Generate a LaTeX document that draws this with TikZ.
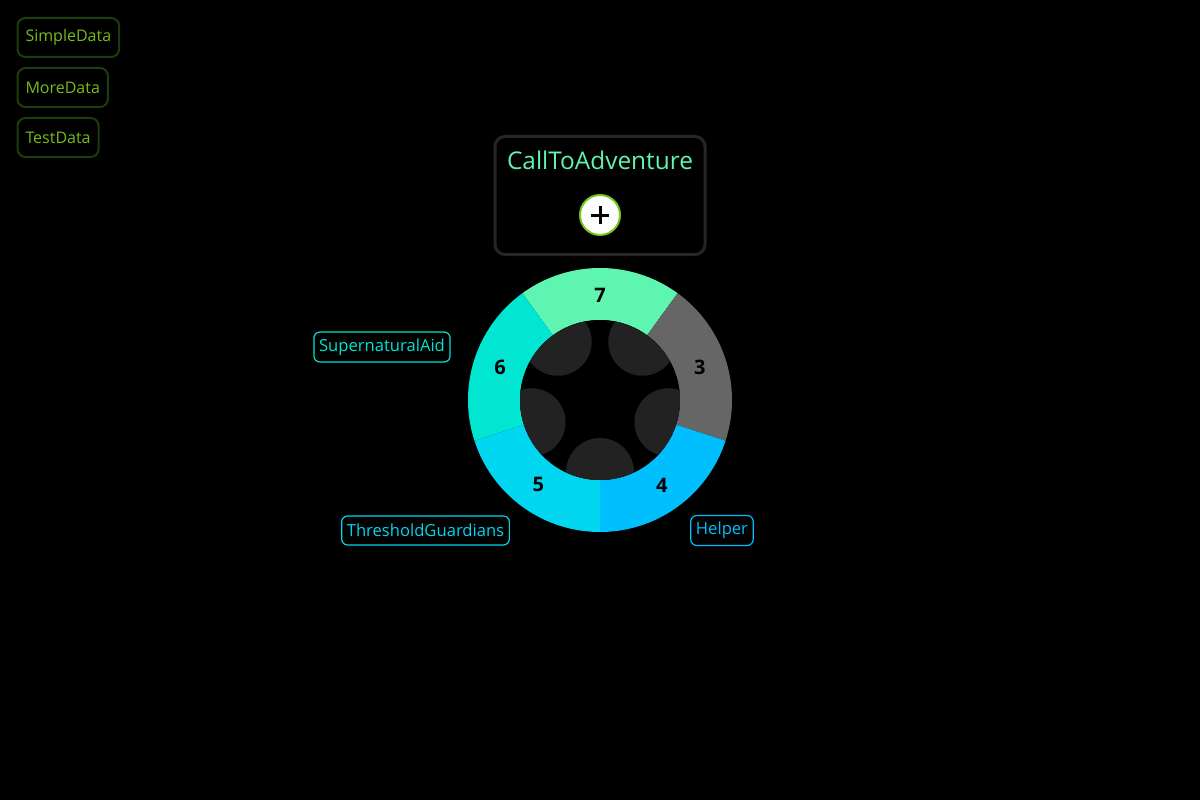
\documentclass[tikz,border=0pt]{standalone}
\usepackage{fontspec}
\setmainfont{Open Sans}
\usetikzlibrary{positioning}
\definecolor{ringmint}{HTML}{5DF5B0}
\definecolor{ringgray}{HTML}{666666}
\definecolor{ringsky}{HTML}{00BFFF}
\definecolor{ringcyan}{HTML}{00D6F0}
\definecolor{ringteal}{HTML}{00E6D2}
\definecolor{holegray}{HTML}{222222}
\definecolor{cardedge}{HTML}{262626}
\definecolor{btnedge}{HTML}{1C3D0C}
\definecolor{btntext}{HTML}{76BC18}
\definecolor{addgreen}{HTML}{7AC51A}

\begin{document}
\begin{tikzpicture}[x=0.5pt, y=0.5pt]
                        % hub = centre of the ring, seg<n> = number on a ring segment
                        \tikzstyle{every node}=[font=\fontsize{8}{9.5}\selectfont]
                        \tikzstyle{databtn}=[draw=btnedge, line width=1pt, rounded corners=4pt, text=btntext, minimum height=19.5pt, inner xsep=4pt]
                        \tikzstyle{tag}=[draw, line width=0.6pt, rounded corners=3pt, minimum height=14.5pt, inner xsep=2.6pt, font=\fontsize{8.3}{10}\selectfont]
                        \tikzstyle{card}=[draw=cardedge, line width=1.5pt, rounded corners=5pt, minimum width=105pt, minimum height=59pt]
                        \fill[black] (0,0) rectangle (1200,800);

                        \node[databtn, anchor=north west] (simple) at (16.5,783) {SimpleData};
                        \node[databtn, below=4.5pt of simple.south west, anchor=north west] (more) {MoreData};
                        \node[databtn, below=4.5pt of more.south west, anchor=north west] (test) {TestData};

                        \node[card] (card) at (600,604.5) {};
                        \node[text=ringmint, font=\fontsize{12.2}{14}\selectfont] (title) at (600,640) {CallToAdventure};
                        \node[circle, draw=addgreen, line width=1pt, fill=white, minimum size=20pt, inner sep=0pt] (add) at (600,585) {};
                        \draw[line width=1.5pt] ([xshift=-4.5pt]add.center) -- ([xshift=4.5pt]add.center);
                        \draw[line width=1.5pt] ([yshift=-4.5pt]add.center) -- ([yshift=4.5pt]add.center);

                        \coordinate (hub) at (600,400);
                        \begin{scope}[shift={(hub)}]
                          \foreach \a/\c/\n in {54/ringmint/7, -18/ringgray/3, -90/ringsky/4, -162/ringcyan/5, 126/ringteal/6}{
                            \fill[\c] (\a:132) arc[start angle=\a, end angle=\a+72, radius=132]
                                  -- ({\a+72}:80) arc[start angle=\a+72, end angle=\a, radius=80] -- cycle;
                            \node[font=\bfseries\fontsize{10}{12}\selectfont] (seg\n) at ({\a+36}:105) {\n};
                          }
                          \fill[black] (0,0) circle[radius=80];
                          \clip (0,0) circle[radius=80];
                          \foreach \a in {-90,-18,54,126,198}
                            \fill[holegray] (\a:72) circle[radius=34];
                        \end{scope}

                        \node[tag, draw=ringteal, text=ringteal] (aid) at (382,453) {SupernaturalAid};
                        \node[tag, draw=ringcyan, text=ringcyan] (guard) at (425.5,269.5) {ThresholdGuardians};
                        \node[tag, draw=ringsky, text=ringsky] (helper) at (722,269.5) {Helper};
\end{tikzpicture}
\end{document}
